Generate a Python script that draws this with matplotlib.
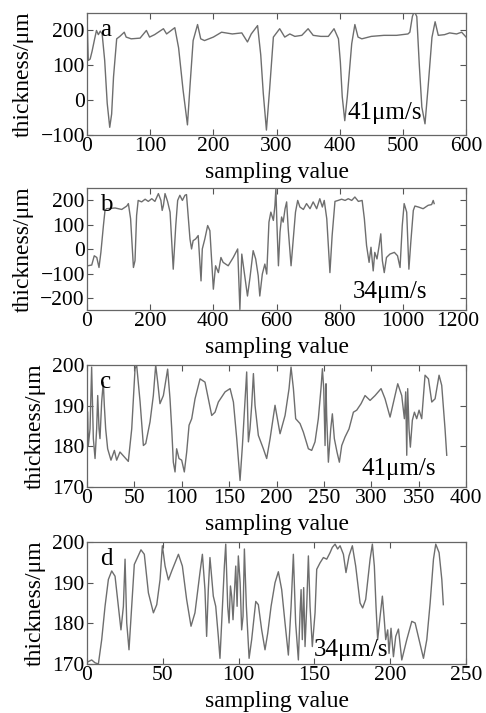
import matplotlib
matplotlib.use('Agg')
import matplotlib.pyplot as plt
import matplotlib.transforms as mtransforms

plt.rcParams['font.family'] = ['Liberation Serif', 'DejaVu Serif']
plt.rcParams['mathtext.fontset'] = 'stix'

# panel a - 41 um/s
a_x = [0, 2, 5, 8, 12, 15, 18, 21, 24, 28, 32, 36, 39, 42, 47, 52, 59, 62, 70, 84,
       94, 99, 107, 121, 126, 139, 145, 152, 159, 163, 168, 175, 180, 186, 200, 213,
       230, 245, 254, 260, 270, 275, 279, 284, 289, 295, 305, 313, 321, 329, 340, 350,
       358, 370, 382, 391, 398, 401, 404, 408, 412, 419, 424, 429, 435, 450, 470, 490,
       508, 511, 515, 518, 522, 526, 530, 535, 540, 546, 551, 556, 566, 574, 585, 593, 600]
a_y = [245, 114, 118, 140, 175, 200, 188, 198, 190, 114, -9, -78, -40, 67, 176, 183, 195, 181, 176, 178,
       200, 181, 188, 205, 190, 208, 150, 30, -71, 40, 171, 217, 176, 171, 181, 195,
       190, 193, 167, 190, 214, 130, 20, -86, 30, 181, 205, 181, 190, 183, 186, 205,
       186, 183, 183, 205, 176, 110, 10, -59, 10, 162, 217, 181, 176, 183, 186, 186,
       190, 195, 240, 255, 240, 100, -20, -68, 40, 180, 225, 186, 188, 193, 190, 195, 181]

# panel b - 34 um/s
b_x = [2, 15, 23, 31, 38, 44, 52, 57, 62, 89, 110, 126, 131, 138, 147, 152, 157, 162,
       173, 184, 194, 205, 215, 226, 234, 238, 242, 247, 255, 263, 273, 281, 287, 294,
       302, 310, 315, 326, 331, 336, 344, 352, 361, 365, 373, 382, 389, 400, 407, 416,
       424, 431, 447, 463, 477, 484, 490, 498, 508, 516, 526, 534, 542, 547, 555, 563,
       569, 576, 582, 590, 595, 598, 601, 606, 611, 616, 621, 627, 632, 637, 646, 653,
       660, 667, 674, 685, 695, 706, 716, 727, 737, 745, 751, 759, 769, 776, 785, 795,
       806, 817, 827, 838, 848, 859, 871, 878, 885, 893, 899, 906, 911, 918, 924, 930,
       935, 941, 948, 959, 973, 983, 991, 998, 1004, 1012, 1019, 1025, 1033, 1038, 1049,
       1064, 1080, 1091, 1096, 1099]
b_y = [-68, -65, -27, -34, -75, -13, 97, 159, 166, 169, 163, 177, 187, 125, -75, -47, 138, 200,
       194, 205, 196, 207, 196, 228, 200, 159, 180, 228, 196, 152, -82, 97, 200, 221,
       200, 221, 224, 42, 1, 35, 42, 56, -130, 1, 42, 97, 76, -164, -68, -96,
       -34, -54, -68, -34, 1, -247, -20, -96, -192, -116, -6, -40, -109, -192, -102, -61,
       -102, 111, 152, 118, 180, 250, 111, -68, 70, 132, 111, 166, 194, 83, -68, 42,
       152, 200, 173, 163, 187, 166, 194, 166, 207, 173, 200, 125, -96, 56, 196, 200,
       205, 200, 207, 200, 214, 196, 200, 125, 15, -54, 8, -89, -13, -40, 8, 63,
       -47, -96, -34, -20, -13, -27, -75, 97, 187, 152, -82, 28, 159, 177, 173,
       166, 180, 183, 200, 187]

# panel c - 41 um/s
c_x = [0.7, 1.4, 3.2, 4.9, 6.7, 8.5, 10.2, 11.3, 12.7, 13.7, 15.5, 17.2, 18.3, 19.7, 21.8,
       25.3, 28.9, 31.3, 34.8, 39.4, 43.6, 47.2, 50.7, 52.4, 56, 59.5, 62, 66.5, 70, 72.5,
       74.6, 77, 80.6, 85.1, 87.6, 89.4, 91.1, 92.9, 94.6, 97.1, 99.9, 102.7, 105.2, 107.7,
       110.5, 114, 119.3, 124.5, 128.1, 131.6, 135.1, 138.6, 145.7, 151, 154.5, 158, 161.5,
       164, 166.8, 168.5, 170.3, 172, 173.8, 175.6, 177.3, 180.8, 186.1, 189.6, 193.2, 198.4,
       203.7, 209, 213.2, 215.3, 217.8, 220.2, 224.8, 228.3, 233.6, 237.1, 240.6, 244.1,
       246.9, 248.4, 249.8, 251.2, 252.2, 252.9, 254.7, 257.2, 258.9, 261, 263.8, 266.3,
       268.8, 272.3, 276.5, 281.1, 284.6, 289.2, 293.4, 298.7, 304, 310.3, 314.5, 319.8,
       324.3, 327.9, 332.1, 334.9, 336.3, 337.4, 338.4, 339.8, 341.2, 343.3, 345.5, 347.9,
       350.4, 353.2, 356.7, 360.3, 363.8, 367.3, 371.5, 374.3, 377.8, 379.6]
c_y = [188.4, 180.2, 184.3, 199.5, 181.9, 177, 184.3, 192.5, 184.3, 181.9, 191, 195.8, 190, 184.3, 179.4,
       176.6, 179, 176.6, 178.6, 177.4, 176.3, 184.3, 199.1, 200, 191, 180.2, 180.7, 186, 192.5, 200,
       195.8, 190.5, 192.5, 199, 191.7, 184.3, 176.1, 173.7, 179.4, 177, 176.6, 173.7, 178.6, 185.2,
       186.8, 191.7, 196.6, 195.8, 191.7, 187.6, 188.4, 190.9, 193.4, 194.2, 190.9, 181.9, 171.6,
       180.2, 191.7, 198.3, 181.1, 184.3, 190.1, 197.9, 190.1, 182.7, 179.4, 177, 181.9, 190.1,
       183.1, 187.6, 194.2, 199.5, 194.2, 186.8, 185.6, 183.5, 179.4, 179, 181.1, 186.8,
       194.2, 199.1, 194.2, 180.2, 195.4, 187.6, 176.1, 184.3, 188, 181.9, 178.6, 176.1,
       180.2, 182.3, 184.3, 188.4, 188.9, 190.5, 192.5, 191.3, 192.5, 194.2, 191.7, 187.2,
       191.7, 195.4, 192.5, 186.8, 193.4, 177.8, 194.2, 184.3, 179.8, 186.4, 188.4, 186.8,
       188.9, 186.8, 197.5, 196.6, 190.9, 191.7, 197.5, 195, 184.3, 177.8]

# panel d - 34 um/s
d_x = [0.9, 3.1, 5.3, 7.5, 9.7, 11.9, 14.1, 16.3, 18.5, 20.7, 22.4, 24, 25.1, 26.2, 27.7,
       29.5, 31.2, 32.8, 35.6, 37.8, 40.5, 43.8, 46, 48.2, 49.7, 51.5, 53.7, 55.9, 60.3, 62.9,
       65.7, 68.6, 71.2, 74.5, 76.1, 77.8, 78.9, 80, 81.1, 83.3, 84.9, 86.6, 87.7, 89.3, 90.6,
       91.5, 92.8, 93.7, 94.6, 95.4, 96.3, 97.2, 98.1, 99, 99.8, 101, 102, 102.9, 103.8, 105.1,
       106.9, 108.6, 111.3, 113, 115.2, 117.4, 119.2, 121.4, 124, 126.2, 128.4, 130.6, 132.8,
       134.6, 136.1, 137.6, 139.4, 140.5, 141.2, 142, 142.9, 143.8, 144.9, 146, 147.1, 148.6,
       150.4, 151.5, 153.7, 155.9, 158.1, 160.3, 161.8, 163.6, 165.3, 166.9, 169.1, 170.8,
       172.8, 175, 177.2, 180.1, 181.8, 183.8, 186.7, 188.2, 189.5, 190.6, 191.7, 193.3,
       194.8, 195.9, 197, 198.3, 199.2, 200.5, 202.1, 203.6, 205.4, 207.6, 210.9, 214.2,
       216.4, 219, 221.9, 224.1, 226.3, 228.5, 230, 232.2, 234, 235]
d_y = [170.6, 171, 170.3, 170, 176, 184.2, 190.8, 192.9, 191.6, 184.2, 178.4, 184.2, 195.8, 180.1, 173.5,
       184.2, 194.5, 195.8, 198.1, 197, 187.5, 182.6, 184.6, 190.8, 199.1, 194.1, 190.7, 192.9, 197, 194.1,
       185.9, 179.3, 182.6, 192.5, 197, 188.3, 176.8, 188.3, 196.2, 186.7, 184.2, 176.8, 171.4, 184.2, 194.1,
       199.5, 184.2, 180.1, 189.2, 186.7, 180.9, 187.5, 194.1, 184.2, 196.6, 190, 178.4, 181.7, 198.3, 184.2,
       171.4, 176, 185.4, 184.6, 178.4, 173.5, 177.6, 184.2, 190, 192.7, 188.3, 180.1, 172.2,
       184.2, 197, 180.1, 171, 182.6, 188.3, 176, 188.8, 174.3, 184.2, 196.6, 184.2, 174.3,
       182.6, 193.3, 194.9, 196.2, 195.8, 197.4, 198.7, 199.5, 198.3, 199.1, 197, 192.5,
       196.6, 199.1, 194.1, 185, 183.8, 185.9, 195.8, 199.5, 194.1, 184.2, 176, 181.7,
       186.7, 181.7, 176, 178.4, 172.6, 178.8, 171.8, 176.8, 178.6, 171, 176, 180.5,
       180.1, 176, 171.4, 176, 185, 195.8, 199.5, 197.4, 190.8, 184.6]

panels = [
    (a_x, a_y, (0, 600), (-100, 250), range(0, 601, 100), [-100, 0, 100, 200], 'a', '41\u03bcm/s', 0.686, 0.18),
    (b_x, b_y, (0, 1200), (-250, 250), range(0, 1201, 200), [-200, -100, 0, 100, 200], 'b', '34\u03bcm/s', 0.70, 0.153),
    (c_x, c_y, (0, 400), (170, 200), range(0, 401, 50), [170, 180, 190, 200], 'c', '41\u03bcm/s', 0.725, 0.148),
    (d_x, d_y, (0, 250), (170, 200), range(0, 251, 50), [170, 180, 190, 200], 'd', '34\u03bcm/s', 0.597, 0.116),
]
bottoms = [0.8107, 0.565, 0.317, 0.0687]

fig = plt.figure(figsize=(4.86, 7.13), dpi=100)
for (x, y, xl, yl, xt, yt, tag, speed, sx, sy), b in zip(panels, bottoms):
    ax = fig.add_axes([0.179, b, 0.780, 0.171])
    ax.plot(x, y, color='#6e6e6e', lw=1.0)
    ax.set_xlim(xl)
    ax.set_ylim(yl)
    ax.set_xticks(list(xt))
    ax.set_yticks(yt)
    ax.tick_params(direction='in', top=True, right=True, length=4, width=0.8,
                   color='#555555', labelsize=15.5, pad=1.5)
    for s in ax.spines.values():
        s.set_color('#666666')
        s.set_linewidth(0.9)
    ax.set_xlabel('sampling value', fontsize=17, labelpad=4)
    ax.set_ylabel('thickness/\u03bcm', fontsize=17, labelpad=5)
    ax.text(0.035, 0.86, tag, transform=ax.transAxes, fontsize=18, va='center', ha='left')
    ax.text(sx, sy, speed, transform=ax.transAxes, fontsize=18, va='center', ha='left')

    # keep the last x tick label (e.g. 1200) inside the figure, as in the reference
    if xl[1] == 1200:
        fig.canvas.draw()
        last = ax.get_xticklabels()[-1]
        shift = mtransforms.ScaledTranslation(-8 / 100, 0, fig.dpi_scale_trans)
        last.set_transform(last.get_transform() + shift)

fig.savefig('out.png', dpi=100)
